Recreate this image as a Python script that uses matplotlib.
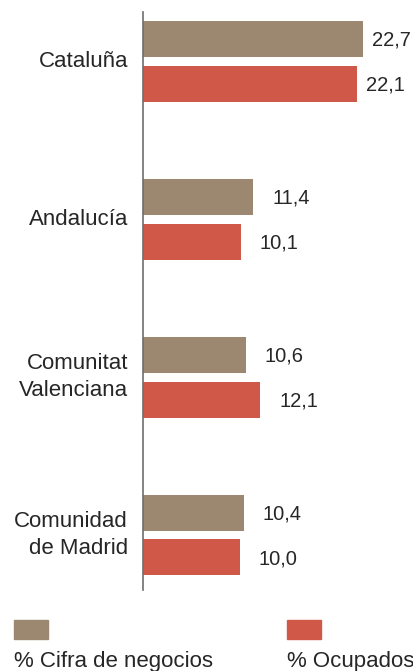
import matplotlib
matplotlib.use('Agg')
import matplotlib.pyplot as plt
from matplotlib.patches import Rectangle

plt.rcParams['font.family'] = ['Liberation Sans', 'DejaVu Sans']

# datos
regiones = ['Cataluña', 'Andalucía', 'Comunitat\nValenciana', 'Comunidad\nde Madrid']
cifra_negocios = [22.7, 11.4, 10.6, 10.4]
ocupados = [22.1, 10.1, 12.1, 10.0]
etiquetas_cifra = ['22,7', '11,4', '10,6', '10,4']
etiquetas_ocup = ['22,1', '10,1', '12,1', '10,0']

col_cifra = '#9c8870'
col_ocup = '#d05849'
col_texto = '#262626'

W, H = 414, 671
fig = plt.figure(figsize=(W / 100, H / 100), dpi=100)

# ejes en pixeles: x de 143 a 414, y de 12 a 590
ax = fig.add_axes([143 / W, 1 - 590 / H, (W - 143) / W, 578 / H])

px_por_unidad = 9.69
ax.set_xlim(0, (W - 143) / px_por_unidad)
ax.set_ylim(3 + (590 - 535) / 158, -(61.5 - 12) / 158)

desp = 0.142
alto = 0.228
pos = list(range(len(regiones)))

ax.barh([p - desp for p in pos], cifra_negocios, height=alto, color=col_cifra)
ax.barh([p + desp for p in pos], ocupados, height=alto, color=col_ocup)

for p, v, t in zip(pos, cifra_negocios, etiquetas_cifra):
    off = 9 if v > 20 else 19
    ax.annotate(t, (v, p - desp), xytext=(off * 0.72, -1), textcoords='offset points',
                va='center', ha='left', fontsize=14.5, color=col_texto)
for p, v, t in zip(pos, ocupados, etiquetas_ocup):
    off = 9 if v > 20 else 19
    ax.annotate(t, (v, p + desp), xytext=(off * 0.72, -1), textcoords='offset points',
                va='center', ha='left', fontsize=14.5, color=col_texto)

for p, r in zip(pos, regiones):
    ax.text(-15 / px_por_unidad, p, r, ha='right', va='center', multialignment='right',
            fontsize=16, color=col_texto, linespacing=1.4)

for s in ['top', 'right', 'bottom']:
    ax.spines[s].set_visible(False)
ax.spines['left'].set_color('#6e6e6e')
ax.spines['left'].set_linewidth(1.2)
ax.set_xticks([])
ax.set_yticks([])

# leyenda
fig.patches.append(Rectangle((14 / W, 1 - 639 / H), 34 / W, 19 / H,
                             transform=fig.transFigure, color=col_cifra))
fig.patches.append(Rectangle((287 / W, 1 - 639 / H), 34 / W, 19 / H,
                             transform=fig.transFigure, color=col_ocup))
fig.text(14 / W, 1 - 667 / H, '% Cifra de negocios', fontsize=16, color=col_texto,
         va='baseline', ha='left')
fig.text(287 / W, 1 - 667 / H, '% Ocupados', fontsize=16, color=col_texto,
         va='baseline', ha='left')

fig.savefig('out.png', dpi=100)
